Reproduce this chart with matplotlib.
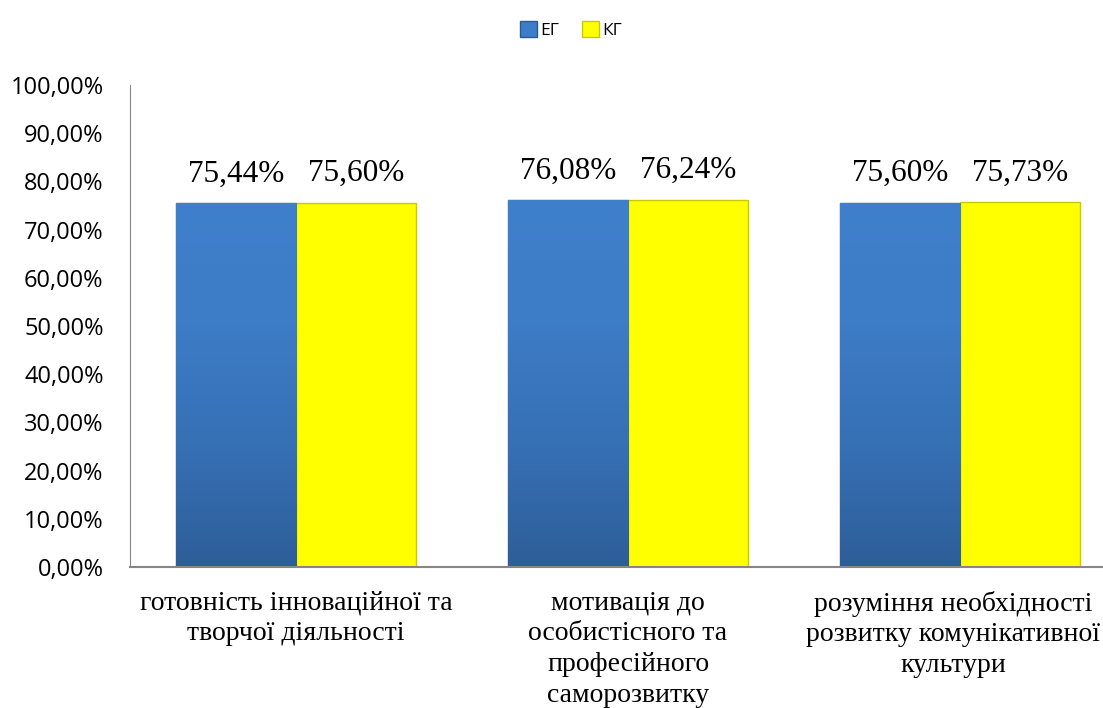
import matplotlib.pyplot as plt
import numpy as np
from matplotlib.colors import LinearSegmentedColormap
from matplotlib.ticker import FuncFormatter
from matplotlib.transforms import ScaledTranslation

categories = ["готовність інноваційної та\nтворчої діяльності",
              "мотивація до\nособистісного та\nпрофесійного\nсаморозвитку",
              "розуміння необхідності\nрозвитку комунікативної\nкультури"]
eg = [75.44, 76.08, 75.60]
kg = [75.60, 76.24, 75.73]
series_names = ["ЕГ", "КГ"]

fig = plt.figure(figsize=(11.03, 7.08), dpi=100)
# axes: left spine at x=130px, bottom at y=567px, top (100%) at y=85px
ax = fig.add_axes([130 / 1103, 1 - 567 / 708, 1 - 130 / 1103, (567 - 85) / 708])

x = np.arange(len(categories))
w = 0.362
b1 = ax.bar(x - w / 2, eg, w, color="#3d7cc9", edgecolor="#2b5a93", linewidth=1.0, label=series_names[0], zorder=2)
b2 = ax.bar(x + w / 2, kg, w, color="#ffff00", edgecolor="#c9c900", linewidth=1.0, label=series_names[1], zorder=2)

# soft vertical gradient on blue bars (darker at the bottom)
blue_cmap = LinearSegmentedColormap.from_list("b", ["#2e5e99", "#3670b5", "#3d7cc6", "#3f80cc"])
grad = np.linspace(0, 1, 256).reshape(-1, 1)
for p in b1:
    x0, y0 = p.get_x(), p.get_y()
    im = ax.imshow(grad, cmap=blue_cmap, aspect="auto", origin="lower",
                   extent=[x0, x0 + p.get_width(), y0, y0 + p.get_height()], zorder=2.1)
    im.set_clip_path(p)

for bars, vals in ((b1, eg), (b2, kg)):
    for p, v in zip(bars, vals):
        ax.text(p.get_x() + p.get_width() / 2, v + 3, f"{v:.2f}%".replace(".", ","),
                ha="center", va="bottom", fontsize=22.5, family="Liberation Serif", zorder=3)

ax.set_xlim(-0.5, (1103 - 130) / 332 - 0.5)
ax.set_ylim(0, 100)
ax.set_yticks(np.arange(0, 101, 10))
ax.yaxis.set_major_formatter(FuncFormatter(lambda v, _: f"{v:.2f}%".replace(".", ",")))
ax.tick_params(axis="y", length=0, labelsize=17, pad=19)
for lbl in ax.get_yticklabels():
    lbl.set_family("Open Sans")
ax.set_xticks(x)
ax.set_xticklabels(categories, family="Liberation Serif", fontsize=20, linespacing=1.3)
ax.tick_params(axis="x", length=0, pad=17)
# last label sits a little left of its bar pair, as in the original
last = ax.get_xticklabels()[-1]
last.set_transform(last.get_transform() + ScaledTranslation(-7 / 100, 0, fig.dpi_scale_trans))

for s in ("top", "right"):
    ax.spines[s].set_visible(False)
ax.spines["left"].set_color("#868686")
ax.spines["bottom"].set_color("#868686")
ax.spines["bottom"].set_linewidth(1.5)

leg = fig.legend(loc="center", bbox_to_anchor=(571 / 1103, 1 - 30 / 708), ncol=2, frameon=False,
                 prop={"family": "Open Sans", "size": 12.5}, handlelength=1.0, handleheight=1.0,
                 handletextpad=0.2, columnspacing=1.3)

fig.savefig("out.png", dpi=100)
